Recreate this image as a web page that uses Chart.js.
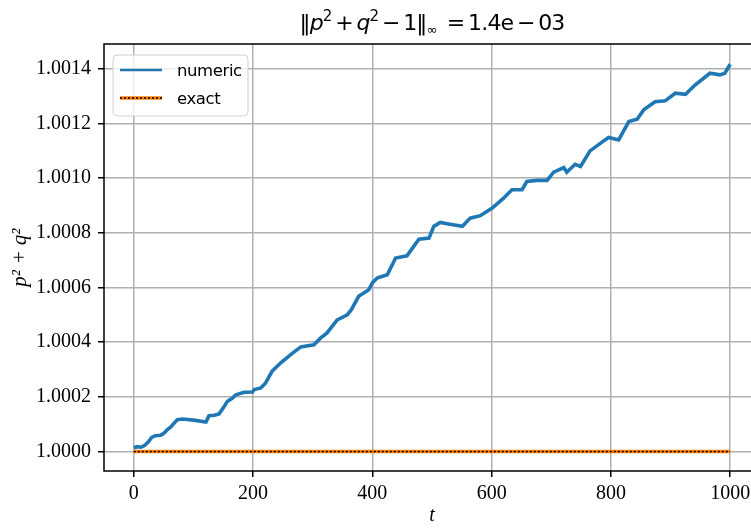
<!DOCTYPE html>
<html>
<head>
<meta charset="utf-8">
<script src="https://cdn.jsdelivr.net/npm/chart.js@4"></script>
<style>
  html, body { margin: 0; padding: 0; background: #fff; overflow: hidden; }
  #wrap { width: 800px; height: 528px; }
</style>
</head>
<body>
<div id="wrap"><canvas id="chartNorm" width="800" height="528"></canvas></div>
<script>
// time samples and p^2 + q^2 from the numeric integrator
const tNumeric = [0, 6, 12, 18, 24, 30, 36, 45, 50, 56, 62, 68, 73, 82, 100, 121, 126, 135, 143, 150,
  157, 165, 171, 185, 199, 202, 213, 221, 232, 246, 263, 280, 302, 313, 324, 341, 358, 365, 377, 394,
  400, 408, 425, 439, 458, 478, 495, 503, 514, 530, 551, 564, 581, 601, 620, 634, 651, 659, 676, 693,
  704, 721, 726, 740, 749, 765, 785, 796, 813, 830, 844, 855, 874, 891, 908, 925, 941, 966, 983, 991, 1000];
const pqNumeric = [1.000014, 1.000018, 1.000016, 1.000022, 1.000035, 1.000052, 1.000058, 1.000060, 1.000066, 1.000080,
  1.000090, 1.000105, 1.000117, 1.000119, 1.000115, 1.000108, 1.000131, 1.000133, 1.000138, 1.000160,
  1.000184, 1.000195, 1.000208, 1.000217, 1.000218, 1.000227, 1.000233, 1.000251, 1.000294, 1.000324,
  1.000355, 1.000383, 1.000391, 1.000415, 1.000434, 1.000482, 1.000500, 1.000520, 1.000568, 1.000592,
  1.000617, 1.000635, 1.000647, 1.000708, 1.000716, 1.000777, 1.000781, 1.000824, 1.000838, 1.000832,
  1.000824, 1.000854, 1.000863, 1.000891, 1.000927, 1.000958, 1.000958, 1.000988, 1.000992, 1.000992,
  1.001022, 1.001039, 1.001022, 1.001051, 1.001043, 1.001100, 1.001132, 1.001149, 1.001140, 1.001207,
  1.001216, 1.001250, 1.001280, 1.001283, 1.001311, 1.001307, 1.001341, 1.001384, 1.001378, 1.001384, 1.001417];

// exact solution keeps p^2 + q^2 = 1
const tExact = [0, 1000];
const pqExact = [1.0, 1.0];

const xTicks = [0, 200, 400, 600, 800, 1000];
const yTicks = [1.0000, 1.0002, 1.0004, 1.0006, 1.0008, 1.0010, 1.0012, 1.0014];
const legendLabels = ['numeric', 'exact'];

const C_BLUE = '#1f77b4', C_ORANGE = '#ff7f0e', C_GRID = '#b0b0b0';
const tickFont = { family: '"Liberation Serif", serif', size: 20 };

const pts = (xs, ys) => xs.map((x, i) => ({ x, y: ys[i] }));

// spines, matplotlib-style legend and the mathtext-ish title
const decor = {
  id: 'decor',
  afterDraw(chart) {
    const { ctx, chartArea: a } = chart;
    ctx.save();
    ctx.strokeStyle = '#000';
    ctx.lineWidth = 1.5;
    ctx.strokeRect(a.left, a.top, a.right - a.left, a.bottom - a.top);

    // legend box
    const lx = a.left + 9, ly = a.top + 11, lw = 135, lh = 61;
    ctx.beginPath();
    ctx.roundRect(lx, ly, lw, lh, 4);
    ctx.fillStyle = 'rgba(255,255,255,0.8)';
    ctx.fill();
    ctx.strokeStyle = '#d0d0d0';
    ctx.lineWidth = 1;
    ctx.stroke();

    const y1 = ly + 15, y2 = ly + 43;
    ctx.lineCap = 'butt';
    ctx.beginPath(); ctx.moveTo(lx + 7, y1); ctx.lineTo(lx + 49, y1);
    ctx.strokeStyle = C_BLUE; ctx.lineWidth = 2.5; ctx.stroke();
    ctx.beginPath(); ctx.moveTo(lx + 7, y2); ctx.lineTo(lx + 49, y2);
    ctx.strokeStyle = C_ORANGE; ctx.lineWidth = 3.5; ctx.stroke();
    ctx.setLineDash([2, 2]);
    ctx.beginPath(); ctx.moveTo(lx + 7, y2); ctx.lineTo(lx + 49, y2);
    ctx.strokeStyle = '#000'; ctx.lineWidth = 1.5; ctx.stroke();
    ctx.setLineDash([]);

    ctx.fillStyle = '#000';
    ctx.font = '16.5px "DejaVu Sans"';
    ctx.letterSpacing = '-0.4px';
    ctx.textBaseline = 'alphabetic';
    ctx.textAlign = 'left';
    ctx.fillText(legendLabels[0], lx + 64, y1 + 6);
    ctx.fillText(legendLabels[1], lx + 64, y2 + 6);

    // title: ||p^2 + q^2 - 1||_inf = 1.4e-03
    const N = '22px "DejaVu Sans"', I = 'italic 22px "DejaVu Sans"', S = '15px "DejaVu Sans"', B = '13px "DejaVu Sans"';
    const runs = [
      ['\u2016', N, 0], ['p', I, 0], ['2', S, -9], ['\u2009+\u2009', N, 0], ['q', I, 0], ['2', S, -9],
      ['\u2009\u2212\u20091', N, 0], ['\u2016', N, 0], ['\u221e', B, 4], ['\u2002=\u20091.4e\u2009\u2212\u200903', N, 0]
    ];
    ctx.letterSpacing = '-0.8px';
    let w = 0;
    runs.forEach(r => { ctx.font = r[1]; w += ctx.measureText(r[0]).width; });
    let x = (a.left + a.right) / 2 - w / 2;
    const base = 30;
    runs.forEach(r => {
      ctx.font = r[1];
      ctx.fillText(r[0], x, base + r[2]);
      x += ctx.measureText(r[0]).width;
    });
    ctx.restore();
  }
};

new Chart(document.getElementById('chartNorm'), {
  type: 'line',
  data: {
    datasets: [
      { label: 'numeric', data: pts(tNumeric, pqNumeric), borderColor: C_BLUE, borderWidth: 3.6,
        pointRadius: 0, tension: 0, order: 2 },
      { label: 'exact', data: pts(tExact, pqExact), borderColor: C_ORANGE, borderWidth: 3.5,
        pointRadius: 0, order: 1 },
      { label: 'exact-dots', data: pts(tExact, pqExact), borderColor: '#000', borderWidth: 1.5,
        borderDash: [2, 2], pointRadius: 0, order: 0 }
    ]
  },
  options: {
    responsive: false,
    animation: false,
    layout: { padding: { top: 44, right: 40, left: 0, bottom: 0 } },
    plugins: { legend: { display: false }, tooltip: { enabled: false } },
    scales: {
      x: {
        type: 'linear', min: -50, max: 1050,
        afterBuildTicks: s => { s.ticks = xTicks.map(v => ({ value: v })); },
        afterFit: s => { s.height = 57; },
        grid: { color: C_GRID, lineWidth: 1.5, tickColor: '#000', tickLength: 6, tickWidth: 1.5 },
        border: { display: false },
        ticks: { font: tickFont, color: '#000', padding: 5, maxRotation: 0, callback: v => String(v) },
        title: { display: true, text: 't', color: '#000', padding: { top: 0, bottom: 0 },
          font: { family: '"Liberation Serif", serif', size: 20, style: 'italic' } }
      },
      y: {
        min: 1 - 0.000071, max: 1.001491,
        afterBuildTicks: s => { s.ticks = yTicks.map(v => ({ value: v })); },
        afterFit: s => { s.width = 104; },
        grid: { color: C_GRID, lineWidth: 1.5, tickColor: '#000', tickLength: 6, tickWidth: 1.5 },
        border: { display: false },
        ticks: { font: tickFont, color: '#000', padding: 7, callback: v => v.toFixed(4) },
        title: { display: true, text: 'p\u00b2 + q\u00b2', color: '#000', padding: { top: 8, bottom: 0 },
          font: { family: '"Liberation Serif", serif', size: 21, style: 'italic' } }
      }
    }
  },
  plugins: [decor]
});
</script>
</body>
</html>
